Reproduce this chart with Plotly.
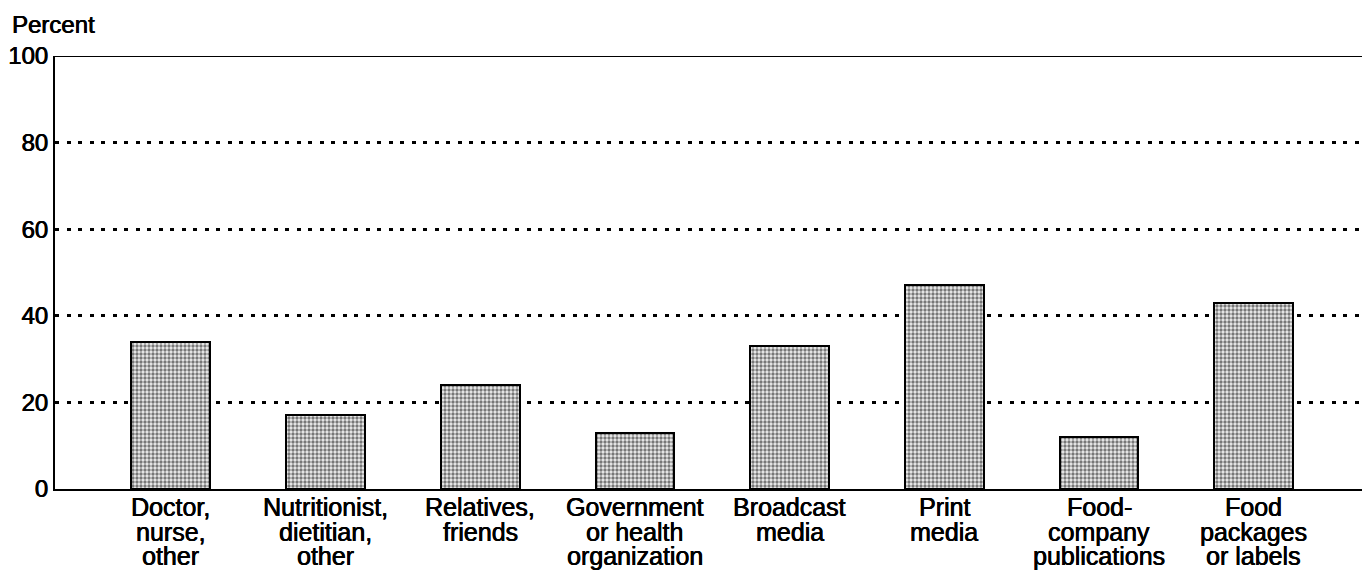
import plotly.graph_objects as go

# Sources of nutrition information, share of respondents (percent)
categories = [
    "Doctor,\nnurse,\nother",
    "Nutritionist,\ndietitian,\nother",
    "Relatives,\nfriends",
    "Government\nor health\norganization",
    "Broadcast\nmedia",
    "Print\nmedia",
    "Food-\ncompany\npublications",
    "Food\npackages\nor labels",
]
percent = [34, 17, 24, 13, 33, 47, 12, 43]
y_ticks = [0, 20, 40, 60, 80, 100]

FONT = "Liberation Sans, Arial, Helvetica, sans-serif"
BOLDISH = "0.4px 0 0 black, -0.25px 0 0 black"
positions = list(range(len(categories)))

fig = go.Figure()
fig.add_trace(go.Bar(
    x=positions,
    y=percent,
    width=0.51,
    marker=dict(
        color="#c8c8c8",
        line=dict(color="black", width=2),
        pattern=dict(shape=".", fgcolor="#000000", bgcolor="#eeeeee",
                     size=4, solidity=0.55, fillmode="overlay"),
    ),
    hoverinfo="x+y",
    showlegend=False,
))

# Category labels, one annotation per line for tight line spacing
line_step = 24.5
for i, label in enumerate(categories):
    for k, line in enumerate(label.split("\n")):
        fig.add_annotation(
            x=i, y=0, xref="x", yref="y",
            text=line, showarrow=False,
            xanchor="center", yanchor="middle",
            borderpad=0,
            yshift=-18 - k * line_step,
            font=dict(family=FONT, size=25, color="black", shadow=BOLDISH),
        )

# Solid line at the top of the scale
fig.add_shape(type="line", xref="paper", yref="y", x0=0, x1=1, y0=100, y1=100,
              line=dict(color="black", width=2))

fig.add_annotation(
    text="Percent", xref="paper", yref="paper",
    x=-0.0344, y=1.072, xanchor="left", yanchor="middle",
    showarrow=False,
    font=dict(family=FONT, size=24, color="black", shadow=BOLDISH),
)

fig.update_xaxes(
    range=[-0.749, 7.70],
    showticklabels=False, ticks="",
    showgrid=False, zeroline=False,
    showline=True, linecolor="black", linewidth=2,
)
fig.update_yaxes(
    range=[0, 100],
    tickvals=y_ticks,
    ticks="", ticklabelstandoff=0,
    tickfont=dict(family=FONT, size=24, color="black", shadow=BOLDISH),
    showgrid=True, gridcolor="black", gridwidth=2.5, griddash="4px,7.5px",
    zeroline=False,
    showline=True, linecolor="black", linewidth=2,
)

fig.update_layout(
    width=1362, height=571,
    margin=dict(l=55, r=0, t=56, b=82),
    paper_bgcolor="white", plot_bgcolor="white",
    bargap=0,
)

fig.write_html("out.html")
